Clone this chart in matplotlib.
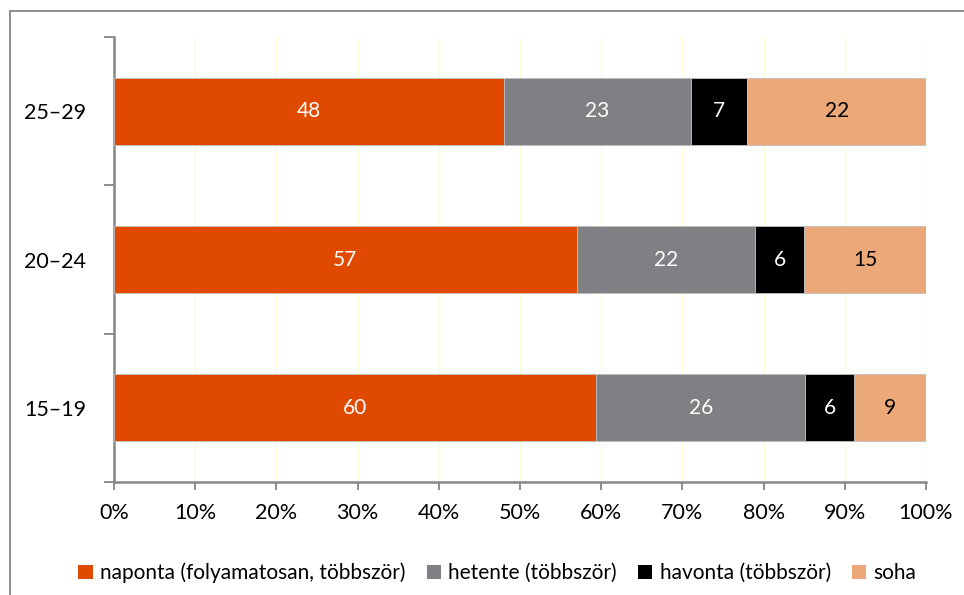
import numpy as np
import matplotlib.pyplot as plt
from matplotlib.patches import Rectangle, Patch

plt.rcParams['font.family'] = ['Lato', 'DejaVu Sans']

groups = ['15–19', '20–24', '25–29']
series = ['naponta (folyamatosan, többször)', 'hetente (többször)',
          'havonta (többször)', 'soha']
naponta = [60, 57, 48]
hetente = [26, 22, 23]
havonta = [6, 6, 7]
soha = [9, 15, 22]

colors = ['#E04A00', '#807F83', '#000000', '#EBA878']
text_colors = ['white', 'white', 'white', 'black']

fig = plt.figure(figsize=(9.64, 5.95), dpi=100)
ax = fig.add_axes([114 / 964, 1 - 482 / 595, (926 - 114) / 964, (482 - 37) / 595])

# outer frame
fig.patches.append(Rectangle((10 / 964, -0.1), 1.2, (595 - 11) / 595 + 0.1,
                             transform=fig.transFigure, fill=False,
                             edgecolor='#868686', linewidth=1.3, zorder=0))

data = np.array([naponta, hetente, havonta, soha], dtype=float)
totals = data.sum(axis=0)
shares = data / totals * 100

y = np.arange(len(groups))
left = np.zeros(len(groups))
for i, name in enumerate(series):
    bars = ax.barh(y, shares[i], left=left, height=0.45, color=colors[i],
                   edgecolor='#BFBFBF', linewidth=0.6, label=name, zorder=3)
    for b, val in zip(bars, data[i]):
        ax.text(b.get_x() + b.get_width() / 2, b.get_y() + b.get_height() / 2,
                f'{val:.0f}', ha='center', va='center', color=text_colors[i],
                fontsize=15, zorder=4)
    left += shares[i]

ax.set_xlim(0, 100)
ax.set_ylim(-0.5, 2.5)
ax.set_xticks(np.arange(0, 101, 10))
ax.set_xticklabels([f'{v}%' for v in range(0, 101, 10)], fontsize=15.5)
ax.xaxis.grid(True, color='#FFF9D6', linewidth=1, zorder=0)
ax.set_axisbelow(True)

ax.set_yticks([-0.5, 0.5, 1.5, 2.5])
ax.set_yticklabels([])
ax.set_yticks(y, minor=True)
ax.set_yticklabels(groups, minor=True, fontsize=15.5)
ax.tick_params(axis='y', which='minor', length=0, pad=20)
ax.tick_params(axis='y', which='major', length=7, color='#868686', width=1.3)
ax.tick_params(axis='x', length=6, color='#868686', width=1.3, pad=9)

for s in ['top', 'right']:
    ax.spines[s].set_visible(False)
for s in ['left', 'bottom']:
    ax.spines[s].set_color('#868686')
    ax.spines[s].set_linewidth(1.8)

handles = [Patch(facecolor=c, label=n) for c, n in zip(colors, series)]
fig.legend(handles=handles, loc='center', bbox_to_anchor=(0.516, 1 - 573 / 595),
           ncol=4, frameon=False, fontsize=15, handlelength=0.7,
           handleheight=0.7, handletextpad=0.35, columnspacing=1.0)

plt.savefig('out.png', dpi=100)
